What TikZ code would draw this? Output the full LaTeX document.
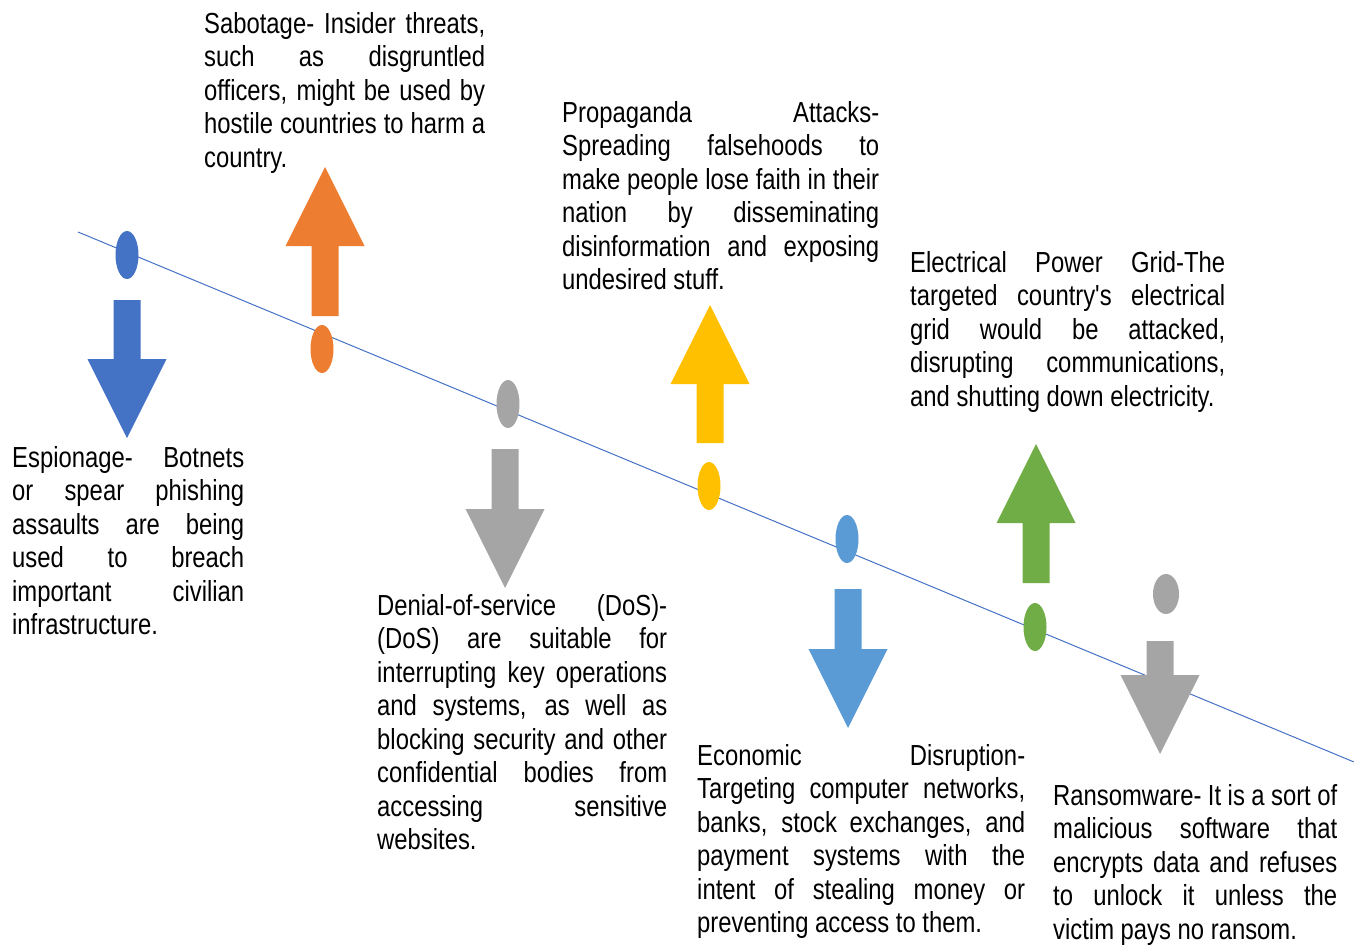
\documentclass[tikz,border=0pt]{standalone}
\usepackage{fontspec}
\setmainfont{Liberation Sans}[FakeStretch=0.822, Ligatures=TeXOff]
\usetikzlibrary{shapes.geometric}
\definecolor{cblue}{HTML}{4472C4}
\definecolor{corange}{HTML}{ED7D31}
\definecolor{cgray}{HTML}{A5A5A5}
\definecolor{cyellow}{HTML}{FFC000}
\definecolor{clblue}{HTML}{5B9BD5}
\definecolor{cgreen}{HTML}{70AD47}
\hyphenpenalty=10000
\exhyphenpenalty=10000

\begin{document}
\begin{tikzpicture}[x=1pt, y=-1pt,
  dot/.style={ellipse, fill=#1, draw=none, minimum width=23pt, minimum height=48pt, inner sep=0},
  txt/.style={anchor=base west, inner sep=0, align=justify, text width=#1,
    font=\fontsize{29}{33.5}\selectfont}]
\useasboundingbox (0,0) rectangle (1354,945);

\coordinate (lstart) at (78,232);
\coordinate (lend) at (1354,762);
\draw[cblue, line width=1pt] (lstart)--(lend);

\foreach \x/\y/\c [count=\i] in {127/255/cblue, 322/349/corange, 508/404/cgray, 709/486/cyellow, 847/539/clblue, 1035/627/cgreen}
  \node[dot=\c] (dot\i) at (\x,\y) {};
\node[dot=cgray, minimum width=26pt, minimum height=40pt] (dot7) at (1166,594) {};

\foreach \x/\y/\s/\d/\c in {127/300/59/1/cblue, 325/316/70/-1/corange, 505/449/60/1/cgray, 710/443/59/-1/cyellow, 848/589/60/1/clblue, 1036/583/60/-1/cgreen, 1160/641/34/1/cgray}
  \fill[\c] ({\x-13.5},\y) -- ({\x-13.5},{\y+\d*\s}) -- ({\x-39.5},{\y+\d*\s}) -- (\x,{\y+\d*(\s+79)}) -- ({\x+39.5},{\y+\d*\s}) -- ({\x+13.5},{\y+\d*\s}) -- ({\x+13.5},\y) -- cycle;

\node[txt=281pt] (sabotage) at (204,33) {Sabotage- Insider threats,\linebreak such as disgruntled\linebreak officers, might be used by\linebreak hostile countries to harm a\linebreak country.};
\node[txt=232pt] (espionage) at (12,467) {Espionage- Botnets\linebreak or spear phishing\linebreak assaults are being\linebreak used to breach\linebreak important civilian\linebreak infrastructure.};
\node[txt=317pt] (propaganda) at (562,122) {Propaganda Attacks-\linebreak Spreading falsehoods to\linebreak make people lose faith in their\linebreak nation by disseminating\linebreak disinformation and exposing\linebreak undesired stuff.};
\node[txt=290pt] (dos) at (377,615) {Denial-of-service (DoS)-\linebreak (DoS) are suitable for\linebreak interrupting key operations\linebreak and systems, as well as\linebreak blocking security and other\linebreak confidential bodies from\linebreak accessing sensitive\linebreak websites.};
\node[txt=315pt] (grid) at (910,272) {Electrical Power Grid-The\linebreak targeted country's electrical\linebreak grid would be attacked,\linebreak disrupting communications,\linebreak and shutting down electricity.};
\node[txt=328pt] (economic) at (697,765) {Economic Disruption-\linebreak Targeting computer networks,\linebreak banks, stock exchanges, and\linebreak payment systems with the\linebreak intent of stealing money or\linebreak preventing access to them.};
\node[txt=284pt] (ransom) at (1053,805) {Ransomware- It is a sort of\linebreak malicious software that\linebreak encrypts data and refuses\linebreak to unlock it unless the\linebreak victim pays no ransom.};

\end{tikzpicture}
\end{document}
